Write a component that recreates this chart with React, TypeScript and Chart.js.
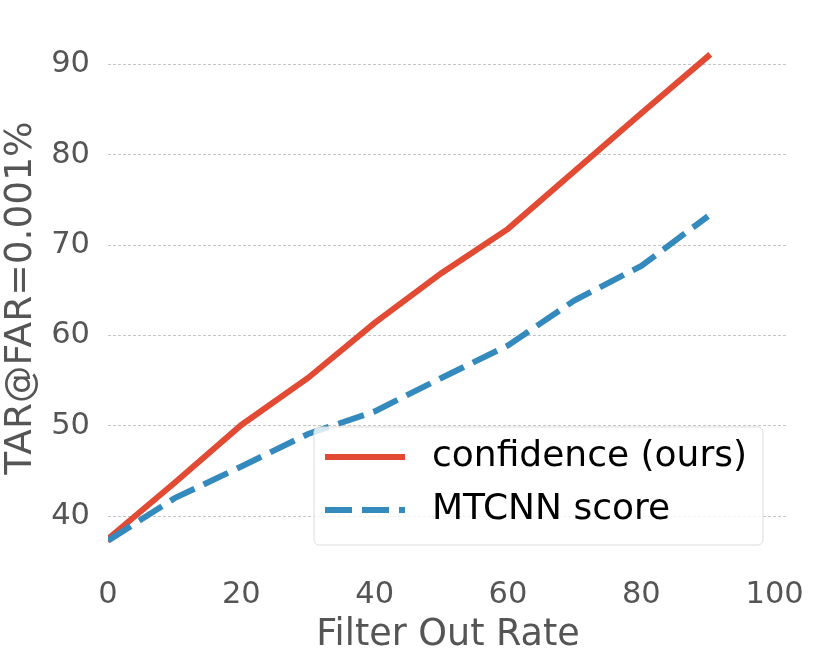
import React, { useEffect, useRef } from "react";
import { Chart, registerables } from "chart.js";

Chart.register(...registerables);

const filterRates = [0, 10, 20, 30, 40, 50, 60, 70, 80, 90];
const confidence = [37.5, 43.7, 50.1, 55.3, 61.4, 66.9, 71.8, 78.2, 84.6, 90.9];
const mtcnn = [37.3, 42.0, 45.5, 49.1, 51.6, 55.3, 58.9, 63.9, 67.7, 73.2];
const xTicks = [0, 20, 40, 60, 80, 100];
const yTicks = [40, 50, 60, 70, 80, 90];
const seriesLabels = ["confidence (ours)", "MTCNN score"];
const xTitle = "Filter Out Rate";
const yTitle = "TAR@FAR=0.001%";

const FONT = "'DejaVu Sans', sans-serif";

const legendPlugin = {
  id: "boxLegend",
  afterDraw(chart: any) {
    const { ctx, chartArea } = chart;
    const boxW = 449;
    const boxH = 118;
    const right = chartArea.right - 25;
    const bottom = chartArea.bottom - 20;
    const left = right - boxW;
    const top = bottom - boxH;
    ctx.save();
    ctx.beginPath();
    const r = 5;
    ctx.moveTo(left + r, top);
    ctx.lineTo(right - r, top);
    ctx.arcTo(right, top, right, top + r, r);
    ctx.lineTo(right, bottom - r);
    ctx.arcTo(right, bottom, right - r, bottom, r);
    ctx.lineTo(left + r, bottom);
    ctx.arcTo(left, bottom, left, bottom - r, r);
    ctx.lineTo(left, top + r);
    ctx.arcTo(left, top, left + r, top, r);
    ctx.closePath();
    ctx.fillStyle = "rgba(255,255,255,0.8)";
    ctx.fill();
    ctx.strokeStyle = "#dcdcdc";
    ctx.lineWidth = 1;
    ctx.stroke();

    chart.data.datasets.forEach((ds: any, i: number) => {
      const y = top + 30 + i * 53;
      ctx.beginPath();
      ctx.strokeStyle = ds.borderColor;
      ctx.lineWidth = ds.borderWidth;
      ctx.lineCap = "butt";
      ctx.setLineDash(ds.borderDash || []);
      ctx.moveTo(left + 11, y);
      ctx.lineTo(left + 91, y);
      ctx.stroke();
      ctx.setLineDash([]);
      ctx.fillStyle = "#000";
      ctx.font = `36px ${FONT}`;
      ctx.textBaseline = "middle";
      ctx.textAlign = "left";
      ctx.fillText(ds.label, left + 118, y);
    });
    ctx.restore();
  },
};

export default function App() {
  const ref = useRef<HTMLCanvasElement>(null);
  useEffect(() => {
    if (!ref.current) return;
    const chart = new Chart(ref.current, {
      type: "line",
      data: {
        datasets: [
          {
            label: seriesLabels[0],
            data: filterRates.map((x, i) => ({ x, y: confidence[i] })),
            borderColor: "#E24A33",
            borderWidth: 6,
            borderCapStyle: "square",
            pointRadius: 0,
            tension: 0,
            fill: false,
            order: 1,
          },
          {
            label: seriesLabels[1],
            data: filterRates.map((x, i) => ({ x, y: mtcnn[i] })),
            borderColor: "#348ABD",
            borderWidth: 6,
            borderDash: [27, 10],
            pointRadius: 0,
            tension: 0,
            fill: false,
            order: 0,
          },
        ],
      },
      options: {
        responsive: false,
        animation: false,
        devicePixelRatio: 1,
        layout: { padding: { top: 31, right: 42, left: 0, bottom: 0 } },
        plugins: {
          legend: { display: false },
          tooltip: { enabled: false },
        },
        scales: {
          x: {
            type: "linear",
            min: 0,
            max: 102,
            afterBuildTicks: (scale: any) => {
              scale.ticks = xTicks.map((v) => ({ value: v }));
            },
            afterFit: (scale: any) => {
              scale.height = 99;
              scale.paddingLeft = 0;
              scale.paddingRight = 0;
            },
            grid: { display: false, drawTicks: false },
            border: { display: false },
            ticks: {
              color: "#555555",
              font: { size: 30.5, family: FONT },
              padding: 12,
              maxRotation: 0,
              autoSkip: false,
            },
            title: {
              display: true,
              text: xTitle,
              color: "#555555",
              font: { size: 36.5, family: FONT, lineHeight: 1 },
              padding: { top: 0, bottom: 10 },
            },
          },
          y: {
            type: "linear",
            min: 34.6,
            max: 93.7,
            afterBuildTicks: (scale: any) => {
              scale.ticks = yTicks.map((v) => ({ value: v }));
            },
            afterFit: (scale: any) => {
              scale.width = 108;
              scale.paddingTop = 0;
              scale.paddingBottom = 0;
            },
            grid: { color: "#c4c4c4", lineWidth: 1, drawTicks: false },
            border: { display: false, dash: [3, 2] },
            ticks: {
              color: "#555555",
              font: { size: 30.5, family: FONT },
              padding: 18,
              autoSkip: false,
            },
            title: {
              display: true,
              text: yTitle,
              color: "#555555",
              font: { size: 37.5, family: FONT, lineHeight: 1 },
              padding: { top: 3, bottom: 0 },
            },
          },
        },
      },
      plugins: [legendPlugin],
    });
    return () => chart.destroy();
  }, []);
  return (
    <div style={{ position: "absolute", left: 0, top: 0, width: 830, height: 664, background: "#fff" }}>
      <canvas ref={ref} width={830} height={664} style={{ width: 830, height: 664, display: "block" }} />
    </div>
  );
}
